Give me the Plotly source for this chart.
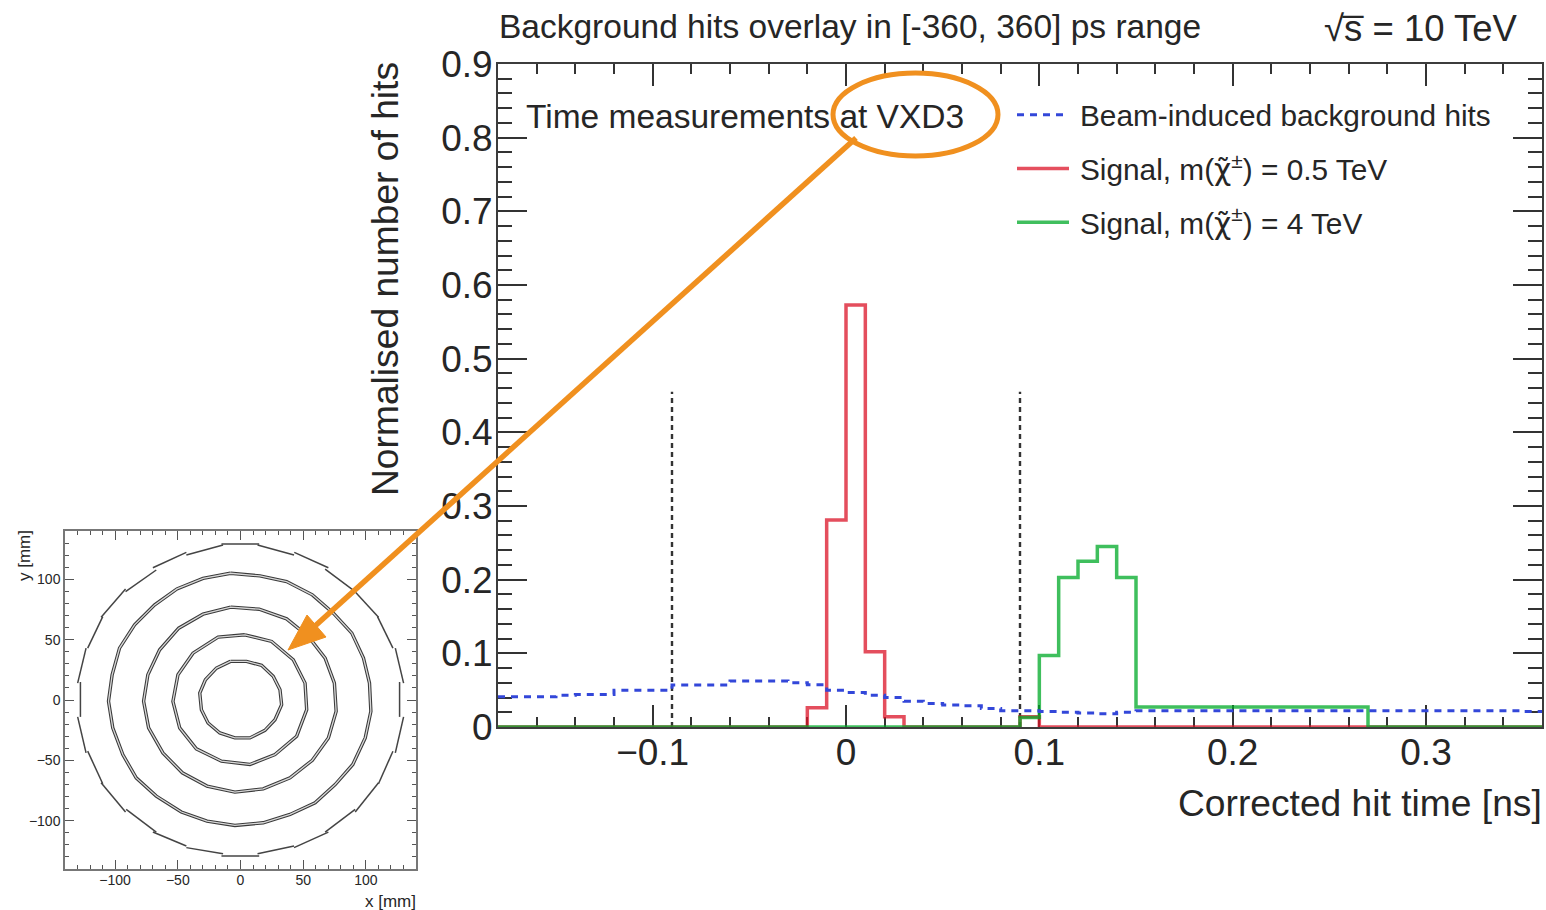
import plotly.graph_objects as go

# ---------- main histogram data ----------
bin_edges = [-0.18, -0.17, -0.16, -0.15, -0.14, -0.13, -0.12, -0.11, -0.10, -0.09, -0.08, -0.07, -0.06, -0.05,
             -0.04, -0.03, -0.02, -0.01, 0.0, 0.01, 0.02, 0.03, 0.04, 0.05, 0.06, 0.07, 0.08, 0.09, 0.10, 0.11,
             0.12, 0.13, 0.14, 0.15, 0.16, 0.17, 0.18, 0.19, 0.20, 0.21, 0.22, 0.23, 0.24, 0.25, 0.26, 0.27,
             0.28, 0.29, 0.30, 0.31, 0.32, 0.33, 0.34, 0.35, 0.36]
background = [0.041, 0.041, 0.041, 0.043, 0.044, 0.044, 0.050, 0.050, 0.050, 0.057, 0.057, 0.057, 0.0625, 0.0625,
              0.0625, 0.060, 0.0575, 0.050, 0.047, 0.043, 0.040, 0.035, 0.032, 0.030, 0.029, 0.025, 0.022, 0.022,
              0.021, 0.020, 0.019, 0.018, 0.020, 0.022, 0.022, 0.022, 0.022, 0.022, 0.022, 0.022, 0.022, 0.022,
              0.022, 0.022, 0.022, 0.022, 0.022, 0.022, 0.022, 0.022, 0.022, 0.022, 0.022, 0.021, 0.021]
signal_05 = [0, 0, 0, 0, 0, 0, 0, 0, 0, 0, 0, 0, 0, 0, 0, 0, 0.026, 0.281, 0.573, 0.102, 0.014, 0, 0, 0, 0, 0, 0,
             0.014, 0, 0, 0, 0, 0, 0, 0, 0, 0, 0, 0, 0, 0, 0, 0, 0, 0, 0, 0, 0, 0, 0, 0, 0, 0, 0, 0]
signal_4 = [0, 0, 0, 0, 0, 0, 0, 0, 0, 0, 0, 0, 0, 0, 0, 0, 0, 0, 0, 0, 0, 0, 0, 0, 0, 0, 0, 0.013, 0.097, 0.203,
            0.225, 0.245, 0.203, 0.027, 0.027, 0.027, 0.027, 0.027, 0.027, 0.027, 0.027, 0.027, 0.027, 0.027,
            0.027, 0, 0, 0, 0, 0, 0, 0, 0, 0, 0]
window_low_x = [-0.09, -0.09]
window_high_x = [0.09, 0.09]
window_y = [0, 0.455]

main_xticks = [-0.1, 0, 0.1, 0.2, 0.3]
main_xlabels = ["\u22120.1", "0", "0.1", "0.2", "0.3"]
main_yticks = [0, 0.1, 0.2, 0.3, 0.4, 0.5, 0.6, 0.7, 0.8, 0.9]
main_ylabels = ["0", "0.1", "0.2", "0.3", "0.4", "0.5", "0.6", "0.7", "0.8", "0.9"]

CHI = "<span style='font-family:DejaVu Sans'>\u03c7\u0303</span>"
series_names = ["\u2009Beam-induced background hits",
                "\u2009Signal, m(" + CHI + "<sup>\u00b1</sup>) = 0.5 TeV",
                "\u2009Signal, m(" + CHI + "<sup>\u00b1</sup>) = 4 TeV"]

# ---------- detector cross-section data, mm ----------
ring1_x = [-8, 4.8, 16.8, 26.1, 31.5, 32.8, 27.5, 19.5, 7.5, -4.5, -16.5, -25.9, -31.2, -32.5, -28, -19.2, -8]
ring1_y = [32, 32, 28.7, 19.6, 8.5, -3.9, -16.3, -25.1, -31.4, -31.4, -27.3, -19, -8, 5.8, 16.8, 26.4, 32]
ring2_x = [3.5, 24.8, 42.1, 51.5, 52.8, 44.8, 27.5, 7.5, -15.2, -35.2, -48.5, -53.9, -49.9, -37.9, -17.9, 3.5]
ring2_y = [54, 48.5, 33.3, 14, -8, -30, -45.2, -53.4, -50.7, -40.5, -23.1, -1.1, 20.9, 38.8, 52.1, 54]
ring3_x = [-7.7, 14.9, 36.8, 54.1, 67.5, 74.9, 76.3, 70.1, 57.3, 39.5, 18.1, -4.5, -26.7, -46.4, -61.9, -73.3,
           -77.3, -73.9, -64.5, -49.3, -29.9, -7.7]
ring3_y = [76.9, 75.2, 67.2, 52.6, 34.7, 14, -9.4, -31.4, -49.9, -64.5, -73.6, -76.3, -71.3, -60.3, -43.8, -23.1,
           -1.1, 20.9, 41.6, 59.5, 71.1, 76.9]
ring4_x = [-8, 15.5, 36.8, 57.3, 74.1, 88.8, 98.1, 102.9, 104, 99.5, 89.6, 75.5, 59.5, 39.5, 18.1, -4.5, -26.7,
           -47.2, -67.2, -83.2, -93.9, -101.9, -105.3, -102.4, -96.5, -84.5, -68.5, -50.7, -29.9, -8]
ring4_y = [105, 102.8, 98.1, 87.1, 71.9, 55.4, 34.7, 14, -9.4, -31.4, -53.4, -70, -85.1, -94.8, -101.7, -103.9,
           -100.3, -92.8, -79.6, -64.5, -45.2, -23.1, -1.1, 20.9, 43, 62.3, 78.8, 92, 100.8, 105]
outer_x = [-15.2, 14.9, None, 13.6, 42.7, None, 42.9, 70.1, None, 67.5, 91.5, None, 90.1, 110.1, None, 109.3, 121.6,
           None, 123.5, 130.1, None, 126.9, 126.9, None, 130.1, 123.5, None, 121.6, 110.1, None, 110.1, 91.5, None,
           91.5, 67.5, None, 70.1, 42.7, None, 42.7, 13.6, None, 14.9, -15.2, None, -13.9, -43.2, None, -43.2, -69.9,
           None, -67.2, -91.2, None, -91.7, -111.2, None, -109.9, -121.9, None, -123.2, -129.9, None, -127.7, -127.7,
           None, -129.9, -123.2, None, -121.9, -109.9, None, -111.2, -91.7, None, -91.7, -67.2, None, -69.9, -43.2,
           None, -43.2, -13.9]
outer_y = [129.2, 129.2, None, 128.4, 120.1, None, 122.3, 109.6, None, 108.5, 89.8, None, 91.2, 68.6, None, 69.1, 43,
           None, 43, 14, None, 14.9, -14, None, -14, -43.8, None, -42.4, -69.4, None, -68.6, -92.8, None,
           -90.6, -109.4, None, -109.4, -122.3, None, -120.9, -127.3, None, -129.2, -129.2, None, -127.3, -122.3, None,
           -120.9, -109.4, None, -109.4, -90.6, None, -92.8, -68.6, None, -69.4, -42.4, None, -43.8, -14, None,
           -14, 14.9, None, 14, 43, None, 43, 69.1, None, 68.6, 92, None, 89.8, 107.7, None, 109.6, 122.3, None,
           120.1, 128.4]
inset_ticks = [-100, -50, 0, 50, 100]
inset_labels = ["\u2212100", "\u221250", "0", "50", "100"]

FONT = "Liberation Sans"
TEXT = "#262626"
W, H = 1546, 910
ORANGE = "#f0901f"


def px(x, y):
    return x / W, 1 - y / H


fig = go.Figure()

# inset rings
for rx, ry in [(ring1_x, ring1_y), (ring2_x, ring2_y), (ring3_x, ring3_y), (ring4_x, ring4_y)]:
    fig.add_trace(go.Scatter(x=rx, y=ry, mode="lines", xaxis="x2", yaxis="y2", showlegend=False,
                             line=dict(color="#3a3a3a", width=3.4), hoverinfo="skip"))
    fig.add_trace(go.Scatter(x=rx, y=ry, mode="lines", xaxis="x2", yaxis="y2", showlegend=False,
                             line=dict(color="#d8d8d8", width=1.3), hoverinfo="skip"))
fig.add_trace(go.Scatter(x=outer_x, y=outer_y, mode="lines", xaxis="x2", yaxis="y2", showlegend=False,
                         line=dict(color="#444444", width=1.5), connectgaps=False, hoverinfo="skip"))

# window lines
for wx in (window_low_x, window_high_x):
    fig.add_trace(go.Scatter(x=wx, y=window_y, mode="lines", showlegend=False,
                             line=dict(color="#333333", width=2.4, dash="5px,4px")))

# histograms: red under green, blue on top, legend order set by rank
fig.add_trace(go.Scatter(x=bin_edges, y=signal_05, name=series_names[1], mode="lines", line_shape="hv",
                         line=dict(color="rgb(220,20,40)", width=3.5), opacity=0.75, cliponaxis=False,
                         legendgroup="b", legendrank=2))
fig.add_trace(go.Scatter(x=bin_edges, y=signal_4, name=series_names[2], mode="lines", line_shape="hv",
                         line=dict(color="rgb(0,170,40)", width=3.5), opacity=0.75, cliponaxis=False,
                         legendgroup="c", legendrank=3))
fig.add_trace(go.Scatter(x=bin_edges, y=background, name=series_names[0], mode="lines", line_shape="hv",
                         line=dict(color="#3347d9", width=3, dash="7px,6px"),
                         legendgroup="a", legendrank=1))

FRAME = "#3c3c3c"
INSET_FRAME = "#777777"
x0, y1 = px(498, 727)
x1, y0 = px(1542, 64)
fig.update_layout(
    width=W, height=H, autosize=False,
    margin=dict(l=0, r=0, t=0, b=0),
    paper_bgcolor="white", plot_bgcolor="white",
    font=dict(family=FONT, color=TEXT),
    xaxis=dict(domain=[x0, x1], range=[-0.18, 0.36], tickmode="array", tickvals=main_xticks, ticktext=main_xlabels,
               ticks="inside", ticklen=22, tickwidth=2, tickcolor="#333", showline=True, linecolor=FRAME, linewidth=2,
               mirror="allticks", showgrid=False, zeroline=False, layer="below traces", automargin=False,
               ticklabelstandoff=-8, tickfont=dict(size=37, color=TEXT),
               minor=dict(tickmode="linear", tick0=0, dtick=0.02, ticks="inside", ticklen=10, tickwidth=2,
                          tickcolor="#333", showgrid=False)),
    yaxis=dict(domain=[y1, y0], range=[0, 0.9], tickmode="array", tickvals=main_yticks, ticktext=main_ylabels,
               ticks="inside", ticklen=29, tickwidth=2, tickcolor="#333", showline=True, linecolor=FRAME, linewidth=2,
               mirror="allticks", showgrid=False, zeroline=False, layer="below traces", automargin=False,
               ticklabelstandoff=-4, tickfont=dict(size=37, color=TEXT),
               minor=dict(tickmode="linear", tick0=0, dtick=0.02, ticks="inside", ticklen=14, tickwidth=2,
                          tickcolor="#333", showgrid=False)),
    xaxis2=dict(domain=[65 / W, 416 / W], range=[-140, 140], anchor="y2", tickmode="array", tickvals=inset_ticks,
                ticktext=inset_labels, ticks="inside", ticklen=9, tickwidth=1, tickcolor="#555", showline=True,
                linecolor=INSET_FRAME, linewidth=1.5, mirror="allticks", showgrid=False, zeroline=False,
                automargin=False, ticklabelstandoff=-3, tickfont=dict(size=14, color=TEXT),
                minor=dict(tickmode="linear", tick0=0, dtick=10, ticks="inside", ticklen=4, tickwidth=1,
                           tickcolor="#555", showgrid=False)),
    yaxis2=dict(domain=[1 - 869 / H, 1 - 531 / H], range=[-140, 140], anchor="x2", tickmode="array",
                tickvals=inset_ticks, ticktext=inset_labels, ticks="inside", ticklen=9, tickwidth=1, tickcolor="#555",
                showline=True, linecolor=INSET_FRAME, linewidth=1.5, mirror="allticks", showgrid=False, zeroline=False,
                automargin=False, tickfont=dict(size=14, color=TEXT),
                minor=dict(tickmode="linear", tick0=0, dtick=10, ticks="inside", ticklen=4, tickwidth=1,
                           tickcolor="#555", showgrid=False)),
    legend=dict(x=1012 / W, y=1 - 89 / H, xanchor="left", yanchor="top", bgcolor="rgba(0,0,0,0)",
                font=dict(size=29.8, color=TEXT), traceorder="grouped", tracegroupgap=12, itemwidth=52,
                itemclick=False, itemdoubleclick=False),
    showlegend=True,
)


def label(text, x, y, size, xanchor="left", angle=0, yanchor="middle"):
    fig.add_annotation(text=text, xref="paper", yref="paper", x=x / W, y=1 - y / H, showarrow=False,
                       xanchor=xanchor, yanchor=yanchor, textangle=angle, font=dict(size=size, color=TEXT),
                       borderpad=0, bgcolor="rgba(0,0,0,0)")


label("Background hits overlay in [-360, 360] ps range", 498, 26, 33.5)
label("\u221as\u0305 = 10 TeV", 1519, 28, 36.5, xanchor="right")
label("Time measurements at VXD3", 525, 117, 33.5)
label("Corrected hit time [ns]", 1543, 803, 37.2, xanchor="right")
label("Normalised number of hits", 385, 279, 37.2, xanchor="center", angle=-90)
label("x [mm]", 417, 901, 17, xanchor="right")
label("y [mm]", 24, 556, 17, xanchor="center", angle=-90)

# orange callout
ex0, ey0 = px(833, 156)
ex1, ey1 = px(998, 73)
fig.add_shape(type="circle", xref="paper", yref="paper", x0=ex0, y0=ey0, x1=ex1, y1=ey1, layer="above",
              line=dict(color=ORANGE, width=5))
ax0, ay0 = px(856, 138)
ax1, ay1 = px(315, 626)
fig.add_shape(type="line", xref="paper", yref="paper", x0=ax0, y0=ay0, x1=ax1, y1=ay1, layer="above",
              line=dict(color=ORANGE, width=5.5))
tri = [px(288, 650), px(307, 615), px(326, 637)]
path = "M {} {} L {} {} L {} {} Z".format(*[v for p in tri for v in p])
fig.add_shape(type="path", xref="paper", yref="paper", path=path, layer="above", fillcolor=ORANGE,
              line=dict(color=ORANGE, width=1))

fig.write_html("out.html", config=dict(displayModeBar=False),
               post_script="document.body.style.margin='0';document.body.style.overflow='hidden';")
